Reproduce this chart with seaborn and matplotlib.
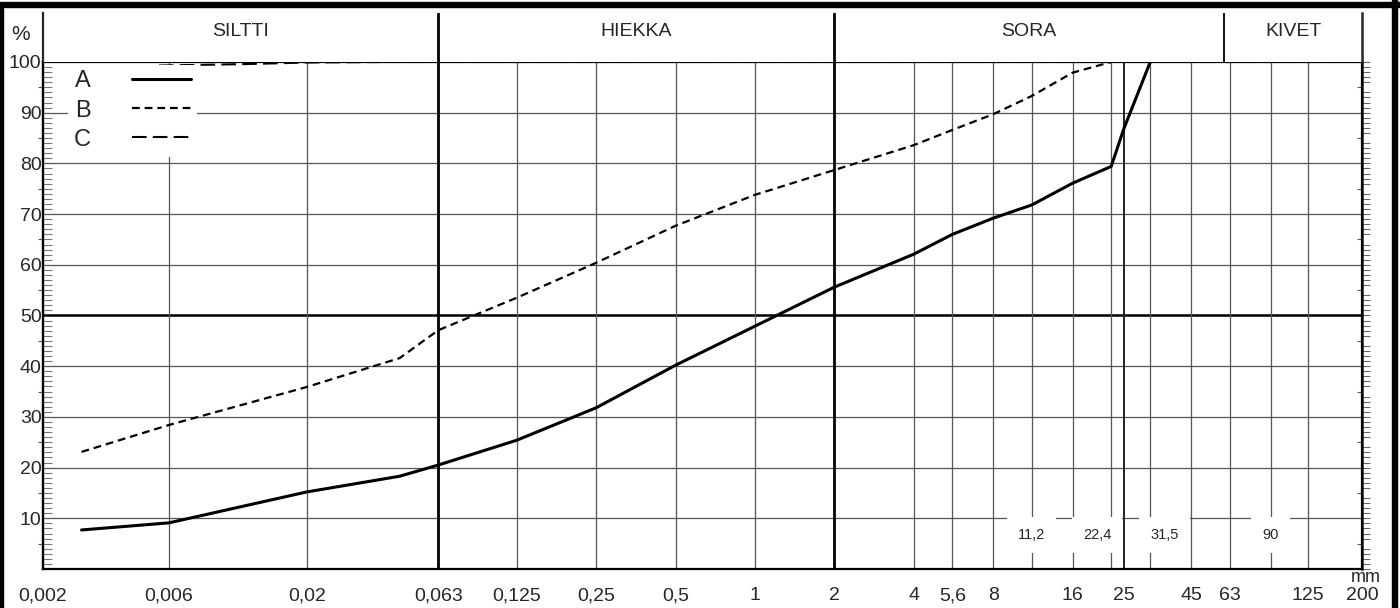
import matplotlib
matplotlib.use("Agg")
import matplotlib.pyplot as plt
import seaborn as sns
from matplotlib.patches import Rectangle
from matplotlib.ticker import FixedLocator, FixedFormatter, MultipleLocator, NullLocator

# grain size (mm) and passing (%)
sizes_a = [0.0028, 0.006, 0.02, 0.045, 0.063, 0.125, 0.25, 0.5, 1, 2, 4, 5.6, 8, 11.2, 16, 22.4, 25, 31.5]
pass_a = [7.7, 9.1, 15.2, 18.3, 20.5, 25.4, 31.8, 40.2, 47.9, 55.6, 62.1, 66.0, 69.2, 71.8, 76.1, 79.4, 86.8, 100]

sizes_b = [0.0028, 0.006, 0.02, 0.045, 0.063, 0.125, 0.25, 0.5, 1, 2, 4, 5.6, 8, 11.2, 16, 22.4]
pass_b = [23.1, 28.4, 35.9, 41.6, 47.1, 53.5, 60.4, 67.7, 73.8, 78.7, 83.6, 86.6, 89.7, 93.3, 97.9, 100]

sizes_c = [0.0055, 0.012, 0.02, 0.04, 200]
pass_c = [99.3, 99.6, 99.9, 100, 100]

x_ticks = [0.002, 0.006, 0.02, 0.063, 0.125, 0.25, 0.5, 1, 2, 4, 5.6, 8, 16, 25, 45, 63, 125, 200]
x_labels = ["0,002", "0,006", "0,02", "0,063", "0,125", "0,25", "0,5", "1", "2", "4", "5,6",
            "8", "16", "25", "45", "63", "125", "200"]
grid_thin = [0.006, 0.02, 0.125, 0.25, 0.5, 1, 4, 5.6, 8, 11.2, 16, 22.4, 31.5, 45, 63, 90, 125]
grid_thick = [0.063, 2]
grid_mid = [25]
sieve_extra = [(11.2, "11,2", "center"), (22.4, "22,4", "right"), (31.5, "31,5", "left"), (90, "90", "center")]

classes = ["SILTTI", "HIEKKA", "SORA", "KIVET"]
class_edges = [0.002, 0.063, 2, 60, 200]

sns.set_style("ticks")
plt.rcParams["font.family"] = ["Liberation Sans", "DejaVu Sans"]

W, H = 1400, 608
fig = plt.figure(figsize=(14, 6.08), dpi=100)
ax = fig.add_axes([43 / W, 39 / H, 1319 / W, 507 / H])
ax.set_xscale("log")
ax.set_xlim(0.002, 200)
ax.set_ylim(0, 100)

# grid
for v in range(10, 100, 10):
    if v == 50:
        ax.axhline(v, color="black", lw=1.8, zorder=1)
    else:
        ax.axhline(v, color="#555555", lw=0.9, zorder=1)
for v in grid_thin:
    ax.axvline(v, color="#555555", lw=0.9, zorder=1)
for v in grid_mid:
    ax.axvline(v, color="#222222", lw=1.4, zorder=1)
for v in grid_thick:
    ax.axvline(v, color="black", lw=2.0, zorder=1)

sns.lineplot(x=sizes_a, y=pass_a, ax=ax, color="black", lw=2.2, label="A", zorder=4)
sns.lineplot(x=sizes_b, y=pass_b, ax=ax, color="black", lw=1.6, linestyle=(0, (3.5, 2.2)), label="B", zorder=4)
sns.lineplot(x=sizes_c, y=pass_c, ax=ax, color="black", lw=1.5, linestyle=(0, (7, 3)), label="C", zorder=4)

for x, txt, ha in sieve_extra:
    ax.text(x, 6.7, txt, ha=ha, va="center", fontsize=10.5, zorder=3,
            bbox=dict(boxstyle="square,pad=0.75", facecolor="white", edgecolor="none"))

# axes ticks
ax.xaxis.set_major_locator(FixedLocator(x_ticks))
ax.xaxis.set_major_formatter(FixedFormatter(x_labels))
ax.xaxis.set_minor_locator(NullLocator())
ax.tick_params(axis="x", which="both", length=0, pad=13, labelsize=14)

ax.yaxis.set_major_locator(FixedLocator(list(range(10, 101, 10))))
ax.yaxis.set_major_formatter(FixedFormatter([str(v) for v in range(10, 101, 10)]))
ax.yaxis.set_minor_locator(MultipleLocator(1))
ax.tick_params(axis="y", which="major", length=0, pad=1, labelsize=14)
ax.tick_params(axis="y", which="minor", direction="in", length=6.5, width=0.8, color="#777777",
               left=True, right=False)

sec_l = ax.secondary_yaxis("left")
sec_l.set_yticks(list(range(5, 100, 10)))
sec_l.tick_params(direction="out", length=3.5, width=0.8, color="#555555", labelleft=False)
sec_l.spines["left"].set_linewidth(1.6)

sec_r = ax.secondary_yaxis("right")
sec_r.set_yticks(list(range(5, 100, 10)))
sec_r.yaxis.set_minor_locator(MultipleLocator(1))
sec_r.tick_params(which="major", direction="in", length=3.5, width=0.8, color="#555555", labelright=False)
sec_r.tick_params(which="minor", direction="out", length=6, width=0.8, color="#666666")
sec_r.spines["right"].set_linewidth(1.8)

for s in ax.spines.values():
    s.set_visible(True)
    s.set_color("black")
    s.set_linewidth(1.6)

ax.legend(loc="upper left", bbox_to_anchor=(0.019, 0.995), markerfirst=False, fontsize=17,
          handlelength=2.5, handletextpad=1.75, labelspacing=0.3, borderpad=0.25, borderaxespad=0,
          frameon=True, facecolor="white", edgecolor="none", framealpha=1, fancybox=False)

# header with soil classes
hax = fig.add_axes([43 / W, (H - 62) / H, 1319 / W, 49 / H])
hax.set_xscale("log")
hax.set_xlim(0.002, 200)
hax.set_ylim(0, 1)
hax.set_xticks([])
hax.set_yticks([])
hax.xaxis.set_minor_locator(NullLocator())
hax.spines["top"].set_visible(False)
hax.spines["bottom"].set_visible(False)
hax.spines["left"].set_linewidth(1.6)
hax.spines["right"].set_linewidth(1.8)
hax.axvline(class_edges[1], color="black", lw=2.0)
hax.axvline(class_edges[2], color="black", lw=2.0)
hax.axvline(class_edges[3], color="black", lw=1.3)
for i, name in enumerate(classes):
    xc = (class_edges[i] * class_edges[i + 1]) ** 0.5
    hax.text(xc, 0.62, name, ha="center", va="center", fontsize=14)

fig.text(21 / W, 1 - 34 / H, "%", ha="center", va="center", fontsize=15)
fig.text(1366 / W, 1 - 577 / H, "mm", ha="center", va="center", fontsize=13)

# page frame
fig.add_artist(Rectangle((0, 1 - 7 / H), 1, 5 / H, transform=fig.transFigure, color="black"))
fig.add_artist(Rectangle((1392 / W, 0), 5 / W, 1, transform=fig.transFigure, color="black"))
fig.add_artist(Rectangle((0, 0), 2.5 / W, 1 - 8 / H, transform=fig.transFigure, color="black"))

fig.savefig("out.png", dpi=100)
